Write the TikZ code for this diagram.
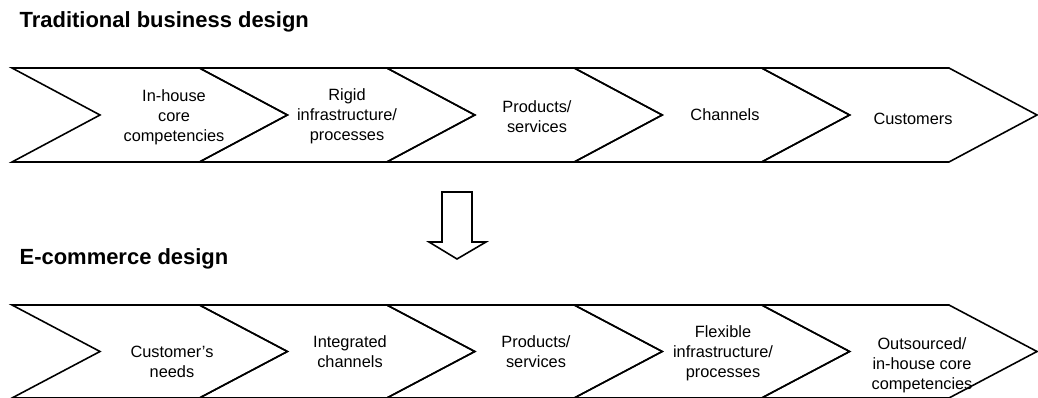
\documentclass[tikz,border=0pt]{standalone}
\usepackage{fontspec}
\setmainfont{Liberation Sans}
\tikzset{
  steptext/.style={align=center, font=\fontsize{9.3}{11.3}\selectfont},
  heading/.style={anchor=base west, font=\fontsize{12.5}{15}\selectfont\bfseries},
}
\begin{document}
\begin{tikzpicture}[x=0.02cm,y=-0.02cm,line width=0.9pt]
\useasboundingbox (0,0) rectangle (1038,398);
\node[heading] (trad) at (13,28) {Traditional business design};
\node[heading] (ecom) at (13,265) {E-commerce design};
\foreach \x in {12,199.4,386.8,574.2,761.6}
{
\draw (\x,68) -- ++(187.4,0) -- ++(88,47) -- ++(-88,47) -- ++(-187.4,0) -- ++(88,-47) -- cycle;
\draw (\x,305) -- ++(187.4,0) -- ++(88,46.5) -- ++(-88,46.5) -- ++(-187.4,0) -- ++(88,-46.5) -- cycle;
}
\node[steptext] (t1) at (174,117) {In-house\\core\\competencies};
\node[steptext] (t2) at (347,116) {Rigid\\infrastructure/\\processes};
\node[steptext] (t3) at (537,117) {Products/\\services};
\node[steptext] (t4) at (725,115) {Channels};
\node[steptext] (t5) at (913,119) {Customers};
\node[steptext] (b1) at (172,362) {Customer's\\needs};
\node[steptext] (b2) at (350,352) {Integrated\\channels};
\node[steptext] (b3) at (536,352) {Products/\\services};
\node[steptext] (b4) at (723,353) {Flexible\\infrastructure/\\processes};
\node[steptext] (b5) at (922,365) {Outsourced/\\in-house core\\competencies};
\draw (442,192) -- (472,192) -- (472,242) -- (486,242) -- (457,259) -- (429,242) -- (442,242) -- cycle;
\end{tikzpicture}
\end{document}
